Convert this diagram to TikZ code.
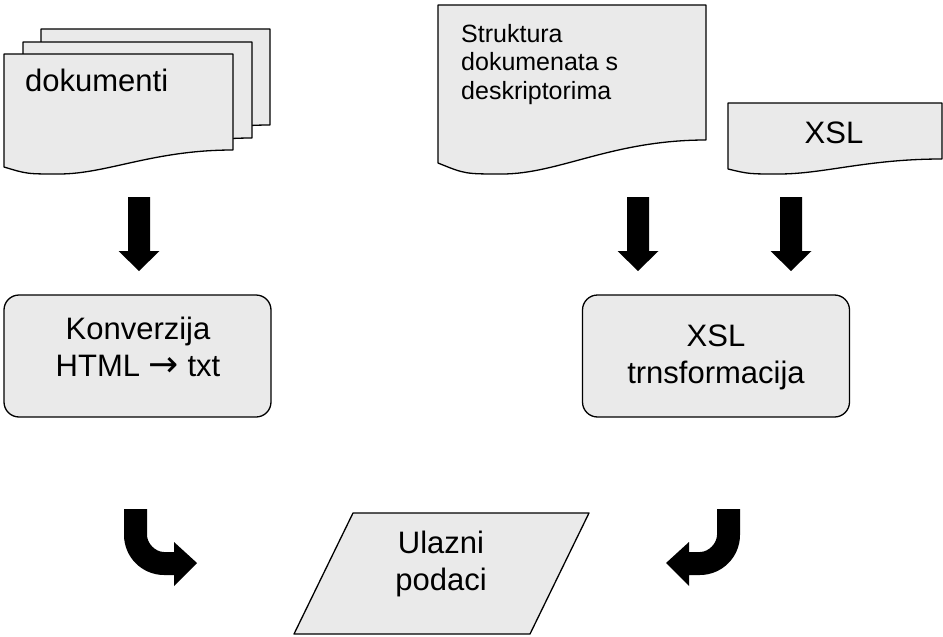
\documentclass[tikz,border=0pt]{standalone}
\usepackage{fontspec}
\setmainfont{Liberation Sans}
\newfontfamily\arrowfont{DejaVu Sans}
\usepackage{tikz}
\usetikzlibrary{calc}
\definecolor{boxGray}{RGB}{234,234,234}

\tikzstyle{tsText} = [
    text=black,
    inner sep=0pt,
    align=center,
    font=\fontsize{31}{37}\selectfont
]
\tikzstyle{tsSmallText} = [
    tsText,
    align=left,
    font=\fontsize{25}{28.5}\selectfont
]
\tikzstyle{tsShape} = [
    draw=black,
    fill=boxGray,
    line width=1.3pt,
    line join=round
]
\tikzstyle{tsProcess} = [
    tsShape,
    rectangle,
    rounded corners=15pt,
    minimum width=267pt,
    minimum height=122pt]
\tikzstyle{tsBlockArrow} = [
    fill=black,
    draw=none]

\begin{document}
\begin{tikzpicture}[x=1pt, y=-1pt]

    \useasboundingbox (0,0) rectangle (943,637);

    % stack of documents
    \foreach \dx/\dy in {37/-25, 19/-12, 0/0} {
        \begin{scope}[shift={(\dx,\dy)}]
            \filldraw[tsShape] (4,54) -- (233,54) -- (233,150)
                .. controls (153,150) and (107,174) .. (59,174)
                .. controls (27,174) .. (4,167) -- cycle;
        \end{scope}
    }
    \node[tsText, anchor=base west] (dokumenti) at (25,91) {dokumenti};

    % structure document
    \filldraw[tsShape] (438,5) -- (706,5) -- (706,140)
        .. controls (612,140) and (559,174) .. (502,174)
        .. controls (465,174) .. (438,163) -- cycle;
    \node[tsSmallText, anchor=base west] (struktura) at (461,99)
        {Struktura\\dokumenata s\\deskriptorima};

    % xsl document
    \filldraw[tsShape] (728,103) -- (942,103) -- (942,159)
        .. controls (867,159) and (824,174) .. (779,174)
        .. controls (749,174) .. (728,169) -- cycle;
    \node[tsText, anchor=base] (xsl) at (834,143) {XSL};

    % down arrows
    \foreach \c in {139, 638, 791} {
        \fill[tsBlockArrow] (\c-11,197) -- (\c+11,197) -- (\c+11,251)
            -- (\c+20.5,251) -- (\c,271) -- (\c-20.5,251) -- (\c-11,251) -- cycle;
    }

    % processing steps
    \node[tsProcess] (konverzija) at (137.5,356) {};
    \node[tsText, anchor=base] (konverzijaText) at (138,376)
        {Konverzija\\HTML {\arrowfont\fontsize{36}{37}\selectfont →} txt};

    \node[tsProcess] (transformacija) at (716,356) {};
    \node[tsText, anchor=base] (transformacijaText) at (716,383)
        {XSL\\trnsformacija};

    % input data
    \filldraw[tsShape] (353,513) -- (589,513) -- (530,634) -- (294,634) -- cycle;
    \node[tsText, anchor=base] (ulazni) at (441,590) {Ulazni\\podaci};

    % curved arrows
    \fill[tsBlockArrow] (124,509) -- (124,535)
        .. controls (124,557) and (142,575) .. (164,575)
        -- (174,575) -- (174,586) -- (197,563) -- (174,542) -- (174,552)
        -- (164,552) .. controls (155,552) and (147,543) .. (147,535)
        -- (147,509) -- cycle;

    \fill[tsBlockArrow] (740,509) -- (740,535)
        .. controls (740,557) and (722,575) .. (700,575)
        -- (689,575) -- (689,586) -- (666,563) -- (689,542) -- (689,552)
        -- (700,552) .. controls (709,552) and (717,543) .. (717,535)
        -- (717,509) -- cycle;

\end{tikzpicture}
\end{document}
